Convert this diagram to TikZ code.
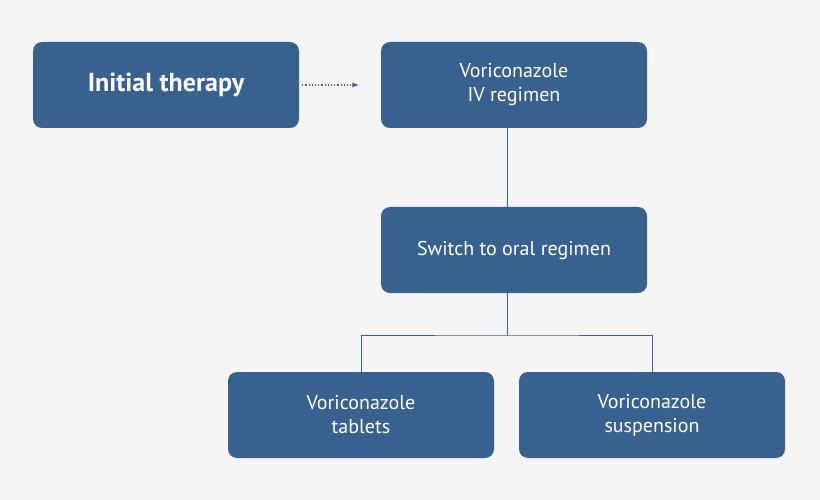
\documentclass[tikz,border=0pt]{standalone}
\usepackage{fontspec}
\setmainfont{PT Sans}
\usetikzlibrary{positioning,backgrounds}
\definecolor{bg}{rgb}{0.96,0.96,0.96}
\definecolor{box}{rgb}{0.22,0.38,0.56}
\definecolor{edgec}{rgb}{0.22,0.38,0.56}
\tikzset{
  stage/.style = {draw=none,fill=box,text=white,rounded corners=9pt,minimum width=266pt,minimum height=86pt,align=center,font=\fontsize{20}{24}\selectfont,inner sep=2pt},
  link/.style = {edgec,thick},
  dotarr/.style = {edgec,very thick,dotted,-latex}
}
\begin{document}
\begin{tikzpicture}[x=1pt,y=-1pt]
\fill[bg] (0,0) rectangle (820,500);
\node[stage,font=\fontsize{26}{30}\selectfont\bfseries] (init) at (166,85) {Initial therapy};
\node[stage] (iv) at (514,85) {Voriconazole\\IV regimen};
\node[stage] (sw) at (514,250) {Switch to oral regimen};
\node[stage] (tab) at (361,415) {Voriconazole\\tablets};
\node[stage] (susp) at (652,415) {Voriconazole\\suspension};

\coordinate (fork) at (507,335);
\draw[dotarr] ([xshift=3pt]init.east) -- ([xshift=-22pt]iv.west);
\draw[link] (iv.south -| fork) -- (sw.north -| fork);
\draw[link] (sw.south -| fork) -- (fork);
\draw[link] (tab.north) |- (fork) -| (susp.north);
\end{tikzpicture}
\end{document}
